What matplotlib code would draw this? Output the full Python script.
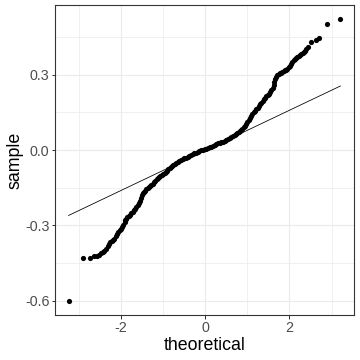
import matplotlib
matplotlib.use("Agg")
import matplotlib.pyplot as plt
from matplotlib.ticker import FixedLocator

plt.rcParams['font.family'] = ['Liberation Sans', 'DejaVu Sans']
plt.rcParams['axes.unicode_minus'] = False

theoretical = [
    -3.25, -2.91, -2.74, -2.64, -2.58, -2.53, -2.48, -2.44, -2.40,
    -2.36, -2.32, -2.29, -2.26, -2.23, -2.19, -2.16, -2.13, -2.10, -2.07,
    -2.04, -2.01, -1.98, -1.95, -1.92, -1.90, -1.88, -1.85, -1.82, -1.79,
    -1.76, -1.73, -1.70, -1.67, -1.64, -1.61, -1.58, -1.555, -1.53, -1.51,
    -1.49, -1.46, -1.43, -1.40, -1.37, -1.34, -1.31, -1.28, -1.25, -1.22,
    -1.19, -1.16, -1.13, -1.10, -1.07, -1.04, -1.00, -0.97, -0.94, -0.91,
    -0.88, -0.85, -0.82, -0.79, -0.76, -0.73, -0.70, -0.66, -0.62, -0.58,
    -0.54, -0.50, -0.46, -0.42, -0.38, -0.34, -0.30, -0.26, -0.22, -0.18,
    -0.14, -0.10, -0.06, -0.02, 0.02, 0.06, 0.10, 0.14, 0.18, 0.22,
    0.26, 0.30, 0.34, 0.38, 0.42, 0.46, 0.50, 0.54, 0.58, 0.62,
    0.66, 0.70, 0.73, 0.76, 0.79, 0.82, 0.85, 0.88, 0.91, 0.94,
    0.97, 1.00, 1.03, 1.06, 1.09, 1.12, 1.15, 1.18, 1.21, 1.24,
    1.27, 1.30, 1.33, 1.36, 1.39, 1.42, 1.45, 1.48, 1.51, 1.54,
    1.57, 1.60, 1.62, 1.64, 1.66, 1.68, 1.71, 1.74, 1.77, 1.80,
    1.83, 1.86, 1.89, 1.92, 1.95, 1.98, 2.01, 2.04, 2.07, 2.10,
    2.13, 2.16, 2.19, 2.22, 2.25, 2.28, 2.31, 2.34, 2.37, 2.40,
    2.44, 2.52, 2.62, 2.71, 2.88, 3.21,
]
sample = [
    -0.600, -0.428, -0.428, -0.423, -0.420, -0.417, -0.411, -0.406, -0.402,
    -0.392, -0.380, -0.372, -0.366, -0.362, -0.357, -0.352, -0.343, -0.334, -0.325,
    -0.318, -0.312, -0.306, -0.297, -0.287, -0.279, -0.273, -0.268, -0.264, -0.258,
    -0.252, -0.246, -0.240, -0.233, -0.226, -0.218, -0.210, -0.201, -0.190, -0.180,
    -0.172, -0.166, -0.161, -0.156, -0.151, -0.147, -0.143, -0.139, -0.134, -0.128,
    -0.122, -0.116, -0.112, -0.108, -0.104, -0.100, -0.095, -0.091, -0.086, -0.082,
    -0.077, -0.072, -0.067, -0.062, -0.058, -0.055, -0.052, -0.048, -0.044, -0.040,
    -0.036, -0.033, -0.030, -0.027, -0.024, -0.021, -0.017, -0.013, -0.010, -0.007,
    -0.004, -0.001, 0.002, 0.004, 0.006, 0.008, 0.011, 0.014, 0.017, 0.020,
    0.024, 0.027, 0.029, 0.031, 0.034, 0.037, 0.040, 0.043, 0.047, 0.051,
    0.055, 0.059, 0.062, 0.066, 0.070, 0.074, 0.079, 0.085, 0.091, 0.097,
    0.103, 0.110, 0.118, 0.127, 0.136, 0.144, 0.150, 0.156, 0.162, 0.168,
    0.175, 0.182, 0.188, 0.195, 0.202, 0.208, 0.214, 0.219, 0.224, 0.231,
    0.238, 0.247, 0.258, 0.270, 0.281, 0.290, 0.297, 0.301, 0.305, 0.308,
    0.311, 0.314, 0.317, 0.320, 0.324, 0.330, 0.336, 0.342, 0.350, 0.357,
    0.362, 0.366, 0.370, 0.374, 0.378, 0.381, 0.385, 0.389, 0.394, 0.401,
    0.410, 0.428, 0.436, 0.445, 0.500, 0.521,
]
line_slope = 0.0797
line_intercept = -0.001

x_major = [-2, 0, 2]
x_minor = [-3, -1, 1, 3]
y_major = [-0.6, -0.3, 0.0, 0.3]
y_minor = [-0.45, -0.15, 0.15, 0.45]
y_labels = ["-0.6", "-0.3", "0.0", "0.3"]
x_labels = ["-2", "0", "2"]

W = H = 360
fig = plt.figure(figsize=(5, 5), dpi=72)
ax = fig.add_axes([55 / W, 45 / H, 299 / W, 310 / H])

xmin, xmax = min(theoretical), max(theoretical)
ymin, ymax = min(sample), max(sample)
ex = (xmax - xmin) * 0.05
ey = (ymax - ymin) * 0.05
ax.set_xlim(xmin - ex, xmax + ex)
ax.set_ylim(ymin - ey, ymax + ey)

ax.xaxis.set_major_locator(FixedLocator(x_major))
ax.xaxis.set_minor_locator(FixedLocator(x_minor))
ax.yaxis.set_major_locator(FixedLocator(y_major))
ax.yaxis.set_minor_locator(FixedLocator(y_minor))
ax.set_xticklabels(x_labels)
ax.set_yticklabels(y_labels)

ax.grid(which='major', color='#EBEBEB', linewidth=1.1)
ax.grid(which='minor', color='#EBEBEB', linewidth=0.7)
ax.set_axisbelow(True)

ax.scatter(theoretical, sample, s=27, color='black', linewidths=0, zorder=3)
ax.plot([xmin, xmax], [line_intercept + line_slope * xmin, line_intercept + line_slope * xmax],
        color='black', linewidth=0.8, zorder=2)

for sp in ax.spines.values():
    sp.set_color('#333333')
    sp.set_linewidth(1.1)

ax.tick_params(which='major', length=3.5, width=1.0, color='#333333',
               labelcolor='#4D4D4D', labelsize=14.3, pad=2)
ax.tick_params(which='minor', length=0)

fig.text((55 + 354) / 2 / W, 1 - 345 / H, "theoretical", ha='center', va='center',
         fontsize=17.8, color='black')
fig.text(15 / W, 1 - 160 / H, "sample", ha='center', va='center', rotation=90,
         fontsize=17.8, color='black')

fig.savefig("out.png", dpi=72)
